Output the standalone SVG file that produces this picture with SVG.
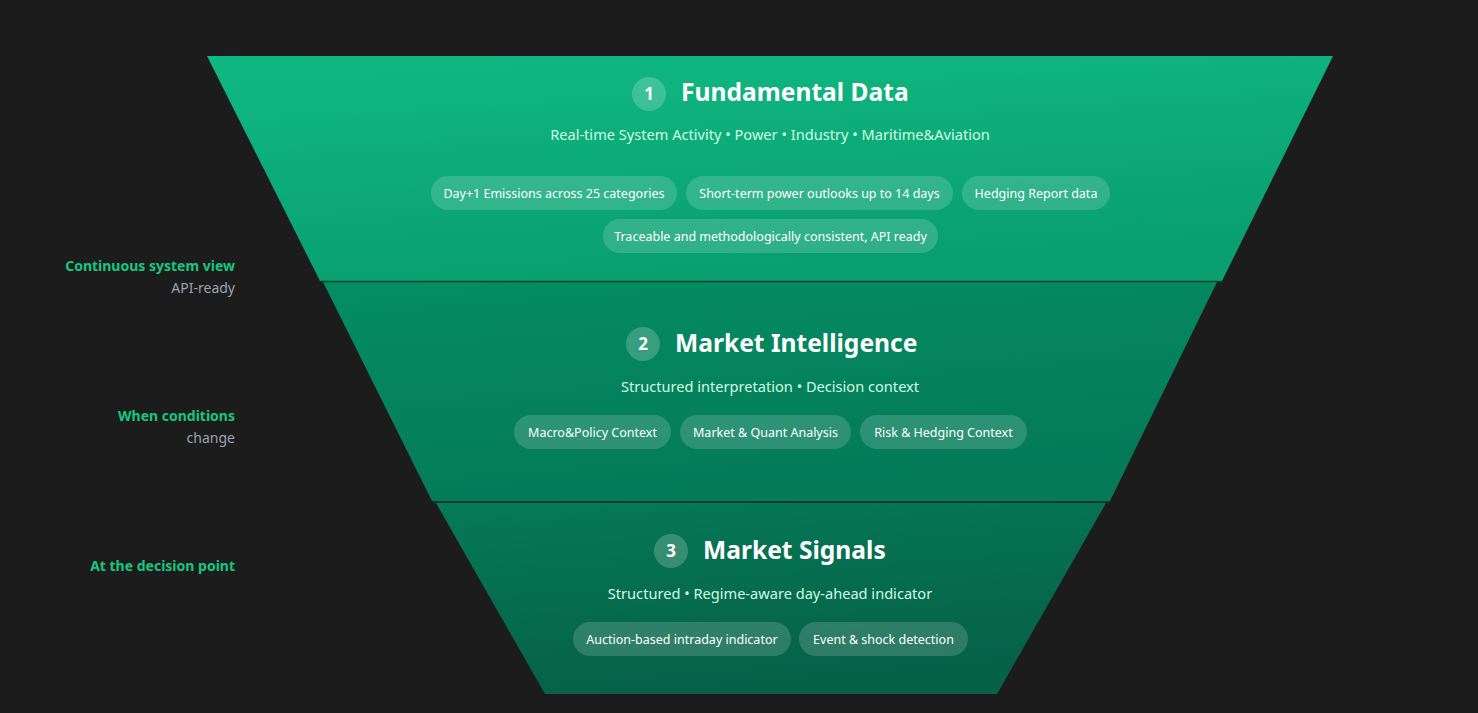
<svg xmlns="http://www.w3.org/2000/svg" width="1478" height="713" viewBox="0 0 1478 713">
<defs>
<linearGradient id="g1" x1="0" y1="0" x2="0.3" y2="1"><stop offset="0" stop-color="#10b981"/><stop offset="1" stop-color="#099f6f"/></linearGradient>
<linearGradient id="g2" x1="0" y1="0" x2="0.3" y2="1"><stop offset="0" stop-color="#058d62"/><stop offset="1" stop-color="#047a57"/></linearGradient>
<linearGradient id="g3" x1="0" y1="0" x2="0.3" y2="1"><stop offset="0" stop-color="#057a56"/><stop offset="1" stop-color="#066147"/></linearGradient>
<style>
.title{font-family:"Noto Sans","Open Sans",sans-serif;font-weight:700;font-size:24.6px;fill:#ffffff}
.num{font-family:"Noto Sans","Open Sans",sans-serif;font-weight:700;font-size:17px;fill:#ffffff;text-anchor:middle}
.badge{fill:#ffffff;fill-opacity:0.2}
.sub{font-family:"Noto Sans","Open Sans",sans-serif;font-size:14.6px;fill:#d1fae5;text-anchor:middle}
.pill{fill:#ffffff;fill-opacity:0.16}
.pt{font-family:"Noto Sans","Open Sans",sans-serif;font-size:12.5px;fill:#ffffff;text-anchor:middle}
.lg{font-family:"Noto Sans","Open Sans",sans-serif;font-weight:700;font-size:14px;fill:#16c784;text-anchor:end}
.ls{font-family:"Noto Sans","Open Sans",sans-serif;font-size:14px;fill:#9ca3af;text-anchor:end}
.sep{stroke:#0a4430;stroke-width:1.5}
</style>
</defs>
<rect width="1478" height="713" fill="#1c1c1c"/>
<g id="band1">
<polygon points="207,56 1333,56 1222,281 320,281" fill="url(#g1)"/>
<circle class="badge" cx="649" cy="94" r="17"/>
<text class="num" x="649" y="100">1</text>
<text class="title" x="681" y="101">Fundamental Data</text>
<text class="sub" x="770" y="139.5">Real-time System Activity • Power • Industry • Maritime&amp;Aviation</text>
<rect class="pill" x="431" y="176" width="246" height="34" rx="17"/>
<text class="pt" x="554" y="198">Day+1 Emissions across 25 categories</text>
<rect class="pill" x="686" y="176" width="267" height="34" rx="17"/>
<text class="pt" x="819.5" y="198">Short-term power outlooks up to 14 days</text>
<rect class="pill" x="962" y="176" width="148" height="34" rx="17"/>
<text class="pt" x="1036" y="198">Hedging Report data</text>
<rect class="pill" x="603" y="219" width="335" height="34" rx="17"/>
<text class="pt" x="770.5" y="241">Traceable and methodologically consistent, API ready</text>
</g>
<g id="band2">
<polygon points="323,282 1217,282 1110,501 432,501" fill="url(#g2)"/>
<circle class="badge" cx="643" cy="344" r="17"/>
<text class="num" x="643" y="350">2</text>
<text class="title" x="675" y="352">Market Intelligence</text>
<text class="sub" x="770" y="391.5">Structured interpretation • Decision context</text>
<rect class="pill" x="514" y="415" width="157" height="34" rx="17"/>
<text class="pt" x="592.5" y="437">Macro&amp;Policy Context</text>
<rect class="pill" x="680" y="415" width="171" height="34" rx="17"/>
<text class="pt" x="765.5" y="437">Market &amp; Quant Analysis</text>
<rect class="pill" x="860" y="415" width="167" height="34" rx="17"/>
<text class="pt" x="943.5" y="437">Risk &amp; Hedging Context</text>
</g>
<g id="band3">
<polygon points="436,503 1106,503 997,694 545,694" fill="url(#g3)"/>
<circle class="badge" cx="671" cy="551" r="17"/>
<text class="num" x="671" y="557">3</text>
<text class="title" x="703" y="559">Market Signals</text>
<text class="sub" x="770" y="598.5">Structured • Regime-aware day-ahead indicator</text>
<rect class="pill" x="573" y="622" width="218" height="34" rx="17"/>
<text class="pt" x="682" y="644">Auction-based intraday indicator</text>
<rect class="pill" x="799" y="622" width="169" height="34" rx="17"/>
<text class="pt" x="883.5" y="644">Event &amp; shock detection</text>
</g>
<g id="connectors">
<line class="sep" x1="321" y1="281.5" x2="1222" y2="281.5"/>
<line class="sep" x1="433" y1="502" x2="1110" y2="502"/>
</g>
<g id="labels">
<text class="lg" x="235" y="271">Continuous system view</text>
<text class="ls" x="235" y="293">API-ready</text>
<text class="lg" x="235" y="421">When conditions</text>
<text class="ls" x="235" y="443">change</text>
<text class="lg" x="235" y="571">At the decision point</text>
</g>
</svg>
